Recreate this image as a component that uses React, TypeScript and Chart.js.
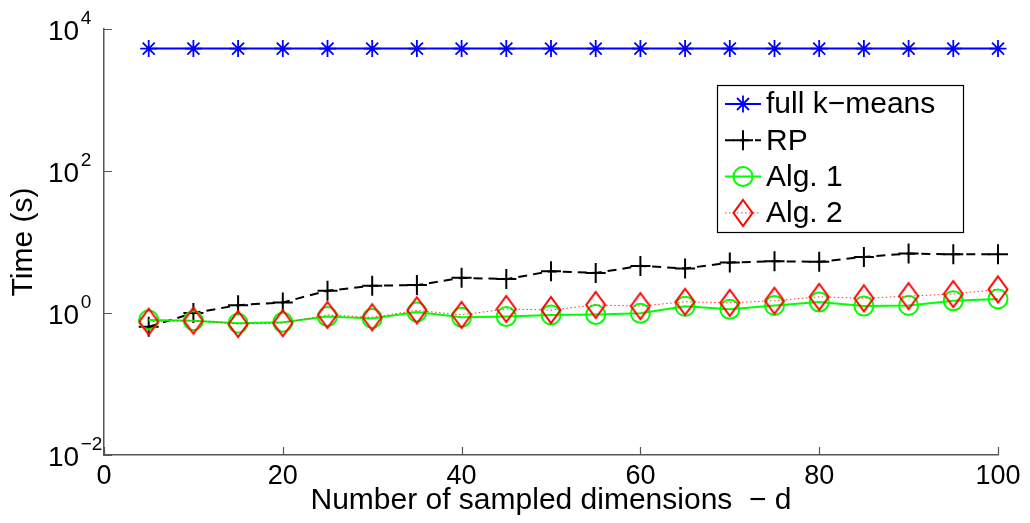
import React, { useEffect, useRef } from 'react';
import { Chart, registerables } from 'chart.js';
import { drawPoint } from 'chart.js/helpers';

Chart.register(...registerables);

// ---------- data ----------
const dims = [5, 10, 15, 20, 25, 30, 35, 40, 45, 50, 55, 60, 65, 70, 75, 80, 85, 90, 95, 100];
const fullKMeansTimes = [5300, 5300, 5300, 5300, 5300, 5300, 5300, 5300, 5300, 5300, 5300, 5300, 5300, 5300, 5300, 5300, 5300, 5300, 5300, 5300];
const rpTimes = [0.64, 1.0, 1.29, 1.41, 2.06, 2.42, 2.47, 3.13, 3.0, 3.88, 3.67, 4.61, 4.24, 5.14, 5.36, 5.25, 6.17, 6.87, 6.72, 6.72];
const alg1Times = [0.8, 0.78, 0.72, 0.74, 0.89, 0.84, 1.03, 0.87, 0.89, 0.94, 0.95, 0.99, 1.24, 1.13, 1.28, 1.43, 1.25, 1.28, 1.49, 1.58];
const alg2Times = [0.755, 0.78, 0.7, 0.72, 0.94, 0.87, 1.09, 0.94, 1.14, 1.1, 1.3, 1.25, 1.44, 1.39, 1.49, 1.69, 1.61, 1.73, 1.85, 2.15];
const seriesLabels = ['full k\u2212means', 'RP', 'Alg. 1', 'Alg. 2'];
const xTickValues = [0, 20, 40, 60, 80, 100];
const yTickValues = [0.01, 1, 100, 10000];
const xTitle = 'Number of sampled dimensions  \u2212 d';
const yTitle = 'Time (s)';

const FONT = '"Liberation Sans", Arial, Helvetica, sans-serif';
const AXIS_COLOR = '#555555';

function makeDiamond(): HTMLCanvasElement {
  const c = document.createElement('canvas');
  c.width = 22;
  c.height = 30;
  const g = c.getContext('2d')!;
  g.strokeStyle = '#ff0000';
  g.lineWidth = 2;
  g.beginPath();
  g.moveTo(11, 2);
  g.lineTo(20.5, 15);
  g.lineTo(11, 28);
  g.lineTo(1.5, 15);
  g.closePath();
  g.stroke();
  return c;
}

const axisDecor = {
  id: 'axisDecor',
  afterDraw(chart: any) {
    const ctx = chart.ctx;
    const xs = chart.scales.x;
    const ys = chart.scales.y;
    const ca = chart.chartArea;
    ctx.save();
    ctx.strokeStyle = AXIS_COLOR;
    ctx.lineWidth = 1.2;
    ctx.beginPath();
    for (const v of xTickValues) {
      const px = Math.round(xs.getPixelForValue(v)) + 0.5;
      ctx.moveTo(px, ca.bottom);
      ctx.lineTo(px, ca.bottom - 8);
    }
    for (const v of yTickValues) {
      const py = Math.round(ys.getPixelForValue(v)) + 0.5;
      ctx.moveTo(ca.left, py);
      ctx.lineTo(ca.left + 8, py);
    }
    ctx.stroke();
    // y tick labels 10^k
    ctx.fillStyle = '#000';
    ctx.textAlign = 'left';
    ctx.textBaseline = 'middle';
    for (const v of yTickValues) {
      const py = ys.getPixelForValue(v);
      const exp = Math.round(Math.log10(v));
      const expStr = exp < 0 ? '\u2212' + Math.abs(exp) : String(exp);
      const x0 = ca.left - 56;
      ctx.font = `28px ${FONT}`;
      ctx.fillText('10', x0, py + 3);
      const w = ctx.measureText('10').width;
      ctx.font = `19px ${FONT}`;
      ctx.fillText(expStr, x0 + w + 1.5, py - 10);
    }
    ctx.restore();
  },
};

const legendBox = {
  id: 'legendBox',
  afterDraw(chart: any) {
    const ctx = chart.ctx;
    const ca = chart.chartArea;
    const bx = ca.right - 281;
    const by = ca.top + 56;
    const bw = 246;
    const bh = 147;
    ctx.save();
    ctx.fillStyle = '#ffffff';
    ctx.fillRect(bx, by, bw, bh);
    ctx.strokeStyle = '#000000';
    ctx.lineWidth = 1.2;
    ctx.strokeRect(bx + 0.5, by + 0.5, bw, bh);
    chart.data.datasets.forEach((ds: any, i: number) => {
      const y = by + 19 + i * 36.3;
      ctx.save();
      ctx.strokeStyle = ds.borderColor;
      ctx.lineWidth = ds.borderWidth;
      ctx.setLineDash(ds.borderDash || []);
      ctx.beginPath();
      ctx.moveTo(bx + 8, y);
      ctx.lineTo(bx + 44, y);
      ctx.stroke();
      ctx.setLineDash([]);
      ctx.strokeStyle = ds.pointBorderColor;
      ctx.fillStyle = 'rgba(0,0,0,0)';
      ctx.lineWidth = ds.pointBorderWidth;
      drawPoint(ctx, { pointStyle: ds.pointStyle, radius: ds.pointRadius, borderWidth: ds.pointBorderWidth, rotation: 0 } as any, bx + 26, y);
      ctx.restore();
      ctx.fillStyle = '#000';
      ctx.font = `30px ${FONT}`;
      ctx.textAlign = 'left';
      ctx.textBaseline = 'middle';
      ctx.fillText(ds.label, bx + 49, y + 1);
    });
    ctx.restore();
  },
};

export default function App() {
  const ref = useRef<HTMLCanvasElement>(null);
  useEffect(() => {
    if (!ref.current) return;
    const diamond = makeDiamond();
    const pts = (ys: number[]) => dims.map((d, i) => ({ x: d, y: ys[i] }));
    const chart = new Chart(ref.current, {
      type: 'line',
      data: {
        datasets: [
          {
            label: seriesLabels[0],
            data: pts(fullKMeansTimes),
            borderColor: '#0000ff',
            borderWidth: 2,
            pointStyle: 'star',
            pointRadius: 8.5,
            pointBorderWidth: 1.8,
            pointBorderColor: '#0000ff',
            pointBackgroundColor: 'rgba(0,0,0,0)',
            order: 3,
            clip: false,
          },
          {
            label: seriesLabels[1],
            data: pts(rpTimes),
            borderColor: '#000000',
            borderWidth: 2,
            borderDash: [9, 6],
            pointStyle: 'cross',
            pointRadius: 10,
            pointBorderWidth: 2,
            pointBorderColor: '#000000',
            pointBackgroundColor: 'rgba(0,0,0,0)',
            order: 2,
            clip: false,
          },
          {
            label: seriesLabels[2],
            data: pts(alg1Times),
            borderColor: '#00ff00',
            borderWidth: 2,
            pointStyle: 'circle',
            pointRadius: 9.5,
            pointBorderWidth: 2,
            pointBorderColor: '#00ff00',
            pointBackgroundColor: 'rgba(0,0,0,0)',
            order: 1,
            clip: false,
          },
          {
            label: seriesLabels[3],
            data: pts(alg2Times),
            borderColor: '#ff3333',
            borderWidth: 1,
            borderDash: [1.5, 2.5],
            pointStyle: diamond as any,
            pointRadius: 11,
            pointBorderWidth: 2,
            pointBorderColor: '#ff0000',
            pointBackgroundColor: 'rgba(0,0,0,0)',
            order: 0,
            clip: false,
          },
        ] as any,
      },
      options: {
        animation: false,
        responsive: false,
        maintainAspectRatio: false,
        devicePixelRatio: 1,
        layout: { padding: { top: 29, right: 32, left: 0, bottom: 0 } },
        elements: { line: { tension: 0 } },
        plugins: {
          legend: { display: false },
          tooltip: { enabled: false },
        },
        scales: {
          x: {
            type: 'linear',
            min: 0,
            max: 100,
            grid: { display: true, drawOnChartArea: false, drawTicks: false },
            border: { display: true, color: AXIS_COLOR, width: 1.5 },
            ticks: {
              color: '#000',
              font: { family: FONT, size: 27 },
              padding: 5,
              maxRotation: 0,
            },
            afterBuildTicks: (s: any) => {
              s.ticks = xTickValues.map((v) => ({ value: v }));
            },
            afterFit: (s: any) => {
              s.height = 68;
            },
            title: {
              display: true,
              text: xTitle,
              color: '#000',
              font: { family: FONT, size: 30 },
              padding: { top: 0, bottom: 4 },
            },
          },
          y: {
            type: 'logarithmic',
            min: 0.01,
            max: 10000,
            grid: { display: true, drawOnChartArea: false, drawTicks: false },
            border: { display: true, color: AXIS_COLOR, width: 1.5 },
            ticks: { display: false },
            afterBuildTicks: (s: any) => {
              s.ticks = yTickValues.map((v) => ({ value: v }));
            },
            afterFit: (s: any) => {
              s.width = 104;
            },
            title: {
              display: true,
              text: yTitle,
              color: '#000',
              font: { family: FONT, size: 30 },
              padding: { top: 6, bottom: 0 },
            },
          },
        },
      } as any,
      plugins: [axisDecor, legendBox],
    });
    return () => chart.destroy();
  }, []);
  return (
    <div style={{ position: 'absolute', left: 0, top: 0, width: 1030, height: 523, background: '#ffffff' }}>
      <canvas ref={ref} width={1030} height={523} style={{ display: 'block' }} />
    </div>
  );
}
